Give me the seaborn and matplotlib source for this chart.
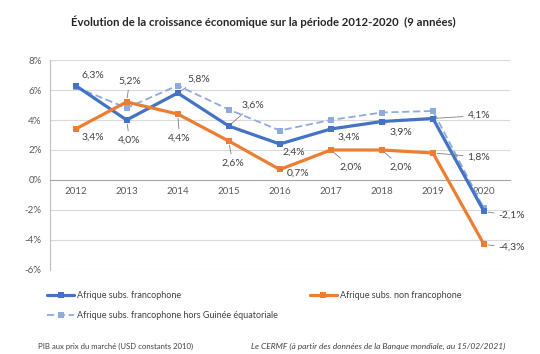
import pandas as pd
import matplotlib.pyplot as plt
import seaborn as sns

# Données (croissance du PIB, en %)
years = [2012, 2013, 2014, 2015, 2016, 2017, 2018, 2019, 2020]
franco = [6.3, 4.0, 5.8, 3.6, 2.4, 3.4, 3.9, 4.1, -2.1]
non_franco = [3.4, 5.2, 4.4, 2.6, 0.7, 2.0, 2.0, 1.8, -4.3]
franco_hors_ge = [6.2, 4.8, 6.3, 4.7, 3.3, 4.0, 4.5, 4.6, -1.9]
y_ticks = [-6, -4, -2, 0, 2, 4, 6, 8]

names = ["Afrique subs. francophone",
         "Afrique subs. non francophone",
         "Afrique subs. francophone hors Guinée équatoriale"]

df = pd.DataFrame({"annee": years, names[0]: franco,
                   names[1]: non_franco, names[2]: franco_hors_ge})

sns.set_style('white')
plt.rcParams['font.family'] = ['Lato', 'DejaVu Sans']

BLUE = '#4472C4'
ORANGE = '#ED7D31'
LIGHT = '#8FAADC'
GREY = '#595959'

fig = plt.figure(figsize=(5.4, 3.54), dpi=100)
ax = fig.add_axes([0.0926, 0.2373, 0.851, 0.5932])

# séries
sns.lineplot(data=df, x="annee", y=names[2], ax=ax, color=LIGHT, lw=1.3,
             marker='s', markersize=4, markeredgewidth=0,
             linestyle=(0, (4, 2)), zorder=2, label=names[2])
sns.lineplot(data=df, x="annee", y=names[0], ax=ax, color=BLUE, lw=2.3,
             marker='s', markersize=5, markeredgewidth=0, zorder=3, label=names[0])
sns.lineplot(data=df, x="annee", y=names[1], ax=ax, color=ORANGE, lw=2.3,
             marker='s', markersize=4.5, markeredgewidth=0, zorder=3, label=names[1])

# axes
ax.set_xlim(2011.5, 2020.5)
ax.set_ylim(-6, 8)
ax.set_yticks(y_ticks)
ax.set_yticklabels([f"{t}%" for t in y_ticks])
ax.set_xticks(years)
ax.set_xticklabels([str(y) for y in years])
ax.set_xticks([y + 0.5 for y in [2011] + years], minor=True)
ax.set_xlabel('')
ax.set_ylabel('')
for t in y_ticks:
    if t != 0:
        ax.axhline(t, color='#d9d9d9', lw=0.8, zorder=0)
ax.spines['bottom'].set_position(('data', 0))
ax.spines['bottom'].set_color('#a6a6a6')
ax.spines['bottom'].set_linewidth(0.8)
ax.spines['left'].set_color('#bfbfbf')
ax.spines['left'].set_linewidth(0.8)
ax.spines['top'].set_visible(False)
ax.spines['right'].set_visible(False)
ax.tick_params(axis='x', which='major', length=0, pad=5, labelsize=7, labelcolor=GREY)
ax.tick_params(axis='x', which='minor', length=3, direction='in', color='#a6a6a6', width=0.8)
ax.tick_params(axis='y', length=0, pad=6, labelsize=7, labelcolor=GREY)

# étiquettes de données (décalages en pixels)
off_franco = [(17, 10), (3, -20), (21, 14), (24, 21), (14, -8), (18, -8), (19, -11), (46, 3), (28, -4)]
off_non = [(17, -8), (3, 21), (2, -24), (4, -22), (18, -4), (20, -17), (19, -17), (46, -4), (28, -3)]
leader = [False] + [True] * 8


def lbl(v):
    return f"{v:.1f}%".replace('.', ',')


for series, offs in [(franco, off_franco), (non_franco, off_non)]:
    for i, (yr, v) in enumerate(zip(years, series)):
        dx, dy = offs[i]
        arrow = dict(arrowstyle='-', color='#7f7f7f', lw=0.6, shrinkA=1, shrinkB=3) if leader[i] else None
        ax.annotate(lbl(v), xy=(yr, v), xytext=(dx * 0.72, dy * 0.72),
                    textcoords='offset points', ha='center', va='center',
                    fontsize=7.5, color='#404040', arrowprops=arrow, zorder=5)

# légende
handles, labels = ax.get_legend_handles_labels()
order = [1, 0, 2]
ax.get_legend().remove()
fig.legend([handles[i] for i in order], [labels[i] for i in order],
           loc='upper left', bbox_to_anchor=(0.072, 0.20), ncol=2,
           frameon=False, fontsize=6.5, handlelength=3.0, handletextpad=0.35,
           columnspacing=3.5, labelspacing=1.15, labelcolor='#404040')

fig.suptitle('Évolution de la croissance économique sur la période 2012-2020  (9 années)',
             x=0.487, y=0.955, fontsize=8.2, fontweight='bold', color='#262626')
fig.text(0.07, 0.014, 'PIB aux prix du marché (USD constants 2010)',
         fontsize=5.6, color='#404040')
fig.text(0.935, 0.014, 'Le CERMF (à partir des données de la Banque mondiale, au 15/02/2021)',
         fontsize=6.05, color='#404040', style='italic', ha='right')

plt.savefig('out.png', dpi=100)
